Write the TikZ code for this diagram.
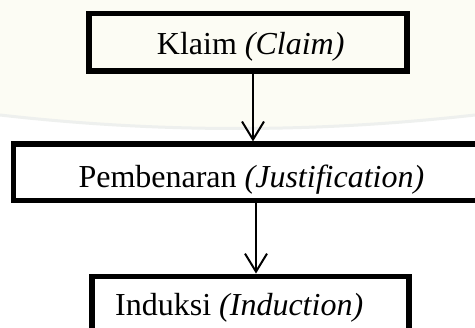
\documentclass[tikz,border=0pt]{standalone}
\usepackage{fontspec}
\setmainfont{Liberation Serif}
\usetikzlibrary{arrows.meta}
\definecolor{cream}{RGB}{252,252,244}
\definecolor{wmline}{RGB}{238,240,238}
\begin{document}
\begin{tikzpicture}[x=1pt,y=-1pt,
  box/.style={draw=black, line width=5.5pt, inner sep=0pt},
  lbl/.style={font=\fontsize{32}{38}\selectfont, inner sep=0pt, anchor=base west},
  arr/.style={line width=2pt, -{Straight Barb[length=18pt,width=22pt]}}]
\useasboundingbox (0,0) rectangle (475,328);
\fill[white] (0,0) rectangle (475,328);
\fill[cream] (0,0) -- (0,115) .. controls (158,133) and (316,133) .. (475,115) -- (475,0) -- cycle;
\draw[wmline, line width=3pt] (0,115) .. controls (158,133) and (316,133) .. (475,115);
% boxes
\node[box, minimum width=317.8pt, minimum height=57.3pt] (b1) at (248.1,42.15) {};
\node[box, minimum width=471pt, minimum height=56.1pt] (b2) at (249,172.25) {};
\node[box, minimum width=317.2pt, minimum height=59.7pt] (b3) at (250.4,306.15) {};
% labels
\node[lbl] (t1) at (156.7,55) {Klaim \textit{(Claim)}};
\node[lbl] (t2) at (78.3,187.7) {Pembenaran \textit{(Justification)}};
\node[lbl] (t3) at (115,315.7) {Induksi \textit{(Induction)}};
% connectors
\draw[arr] ([xshift=4.9pt]b1.south) -- ([xshift=4.9pt]b1.south |- b2.north);
\draw[arr] ([xshift=7pt]b2.south) -- ([xshift=7pt]b2.south |- b3.north);
\end{tikzpicture}
\end{document}
